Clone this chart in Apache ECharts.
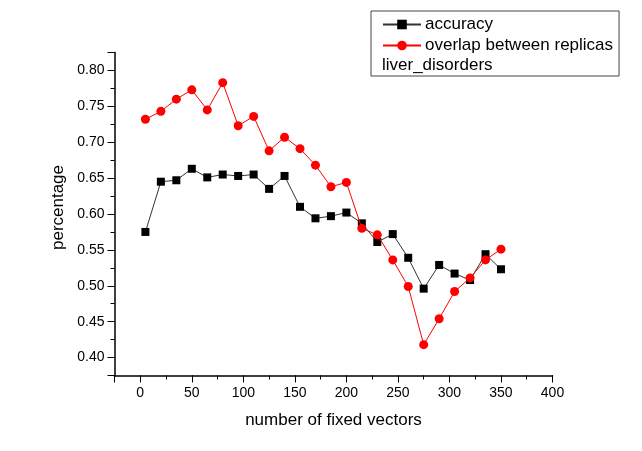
<!DOCTYPE html>
<html>
<head>
<meta charset="utf-8">
<script src="https://cdn.jsdelivr.net/npm/echarts@6/dist/echarts.min.js"></script>
<style>
html,body{margin:0;padding:0;background:#fff;}
#chart{width:642px;height:451px;}
</style>
</head>
<body>
<div id="chart"></div>
<script>
var xValues = [5, 20, 35, 50, 65, 80, 95, 110, 125, 140, 155, 170, 185, 200, 215, 230, 245, 260, 275, 290, 305, 320, 335, 350];
var accuracy = [0.575, 0.645, 0.647, 0.663, 0.651, 0.655, 0.653, 0.655, 0.635, 0.653, 0.610, 0.594, 0.597, 0.602, 0.587, 0.561, 0.572, 0.539, 0.496, 0.529, 0.517, 0.508, 0.544, 0.523];
var overlap = [0.732, 0.743, 0.760, 0.773, 0.745, 0.783, 0.723, 0.736, 0.688, 0.707, 0.691, 0.668, 0.638, 0.644, 0.580, 0.571, 0.536, 0.499, 0.418, 0.454, 0.492, 0.511, 0.536, 0.551];
var seriesNames = ['accuracy', 'overlap between replicas'];
var datasetLabel = 'liver_disorders';
var xTitle = 'number of fixed vectors';
var yTitle = 'percentage';

function pairs(ys) { return xValues.map(function (x, i) { return [x, ys[i]]; }); }
var FONT = '"Liberation Sans", Arial, sans-serif';

var chart = echarts.init(document.getElementById('chart'), null, {renderer: 'canvas'});
var gridPos = {left: 114.5, right: 89.5, top: 52.5, bottom: 75.5};
chart.setOption({
  animation: false,
  backgroundColor: '#ffffff',
  grid: gridPos,
  legend: {
    orient: 'vertical',
    left: 371, top: 11,
    padding: [5, 6, 22, 11],
    itemWidth: 38, itemHeight: 12, itemGap: 4,
    borderColor: '#444', borderWidth: 1,
    data: seriesNames,
    textStyle: {fontFamily: FONT, fontSize: 17, color: '#000', lineHeight: 17, padding: [0, 0, 0, -1]}
  },
  graphic: [{
    type: 'text', left: 382, top: 57,
    style: {text: datasetLabel, fontFamily: FONT, fontSize: 17, fill: '#000'}
  }],
  xAxis: [{
    type: 'value', min: -25, max: 400, interval: 25, position: 'bottom',
    name: xTitle, nameLocation: 'middle', nameGap: 36,
    nameTextStyle: {fontFamily: FONT, fontSize: 17, color: '#000'},
    axisLine: {onZero: false, lineStyle: {color: '#000', width: 1.5}},
    axisTick: {show: true, inside: false, length: 4, lineStyle: {color: '#000', width: 1}},
    axisLabel: {fontFamily: FONT, fontSize: 14, color: '#000', margin: 11,
      formatter: function (v) { return (Math.abs(v % 50) < 1e-6) ? String(v) : ''; }},
    splitLine: {show: false}
  }, {
    type: 'value', min: -25, max: 400, minInterval: 50, maxInterval: 50, position: 'bottom',
    axisLine: {show: false, onZero: false},
    axisTick: {show: true, length: 7, lineStyle: {color: '#000', width: 1}},
    axisLabel: {show: false},
    splitLine: {show: false}
  }],
  yAxis: [{
    type: 'value', min: 0.375, max: 0.825, interval: 0.025, position: 'left',
    name: yTitle, nameLocation: 'middle', nameGap: 37, nameRotate: 90,
    nameTextStyle: {fontFamily: FONT, fontSize: 17, color: '#000', padding: [0, 0, 0, 13]},
    axisLine: {show: true, onZero: false, lineStyle: {color: '#000', width: 1.5}},
    axisTick: {show: true, length: 4, lineStyle: {color: '#000', width: 1}},
    axisLabel: {fontFamily: FONT, fontSize: 14, color: '#000', margin: 10,
      formatter: function (v) {
        var r = v / 0.05;
        return (Math.abs(r - Math.round(r)) < 1e-6) ? v.toFixed(2) : '';
      }},
    splitLine: {show: false}
  }, {
    type: 'value', min: 0.375, max: 0.825, minInterval: 0.05, maxInterval: 0.05, position: 'left',
    axisLine: {show: false, onZero: false},
    axisTick: {show: true, length: 7, lineStyle: {color: '#000', width: 1}},
    axisLabel: {show: false},
    splitLine: {show: false}
  }],
  series: [{
    name: seriesNames[0], type: 'line', data: pairs(accuracy),
    symbol: 'rect', symbolSize: 8,
    itemStyle: {color: '#000'},
    lineStyle: {color: '#333', width: 1},
    z: 3
  }, {
    name: seriesNames[1], type: 'line', data: pairs(overlap),
    symbol: 'circle', symbolSize: 9,
    itemStyle: {color: '#ff0000'},
    lineStyle: {color: '#ff0000', width: 1},
    z: 4
  }]
});
</script>
</body>
</html>
